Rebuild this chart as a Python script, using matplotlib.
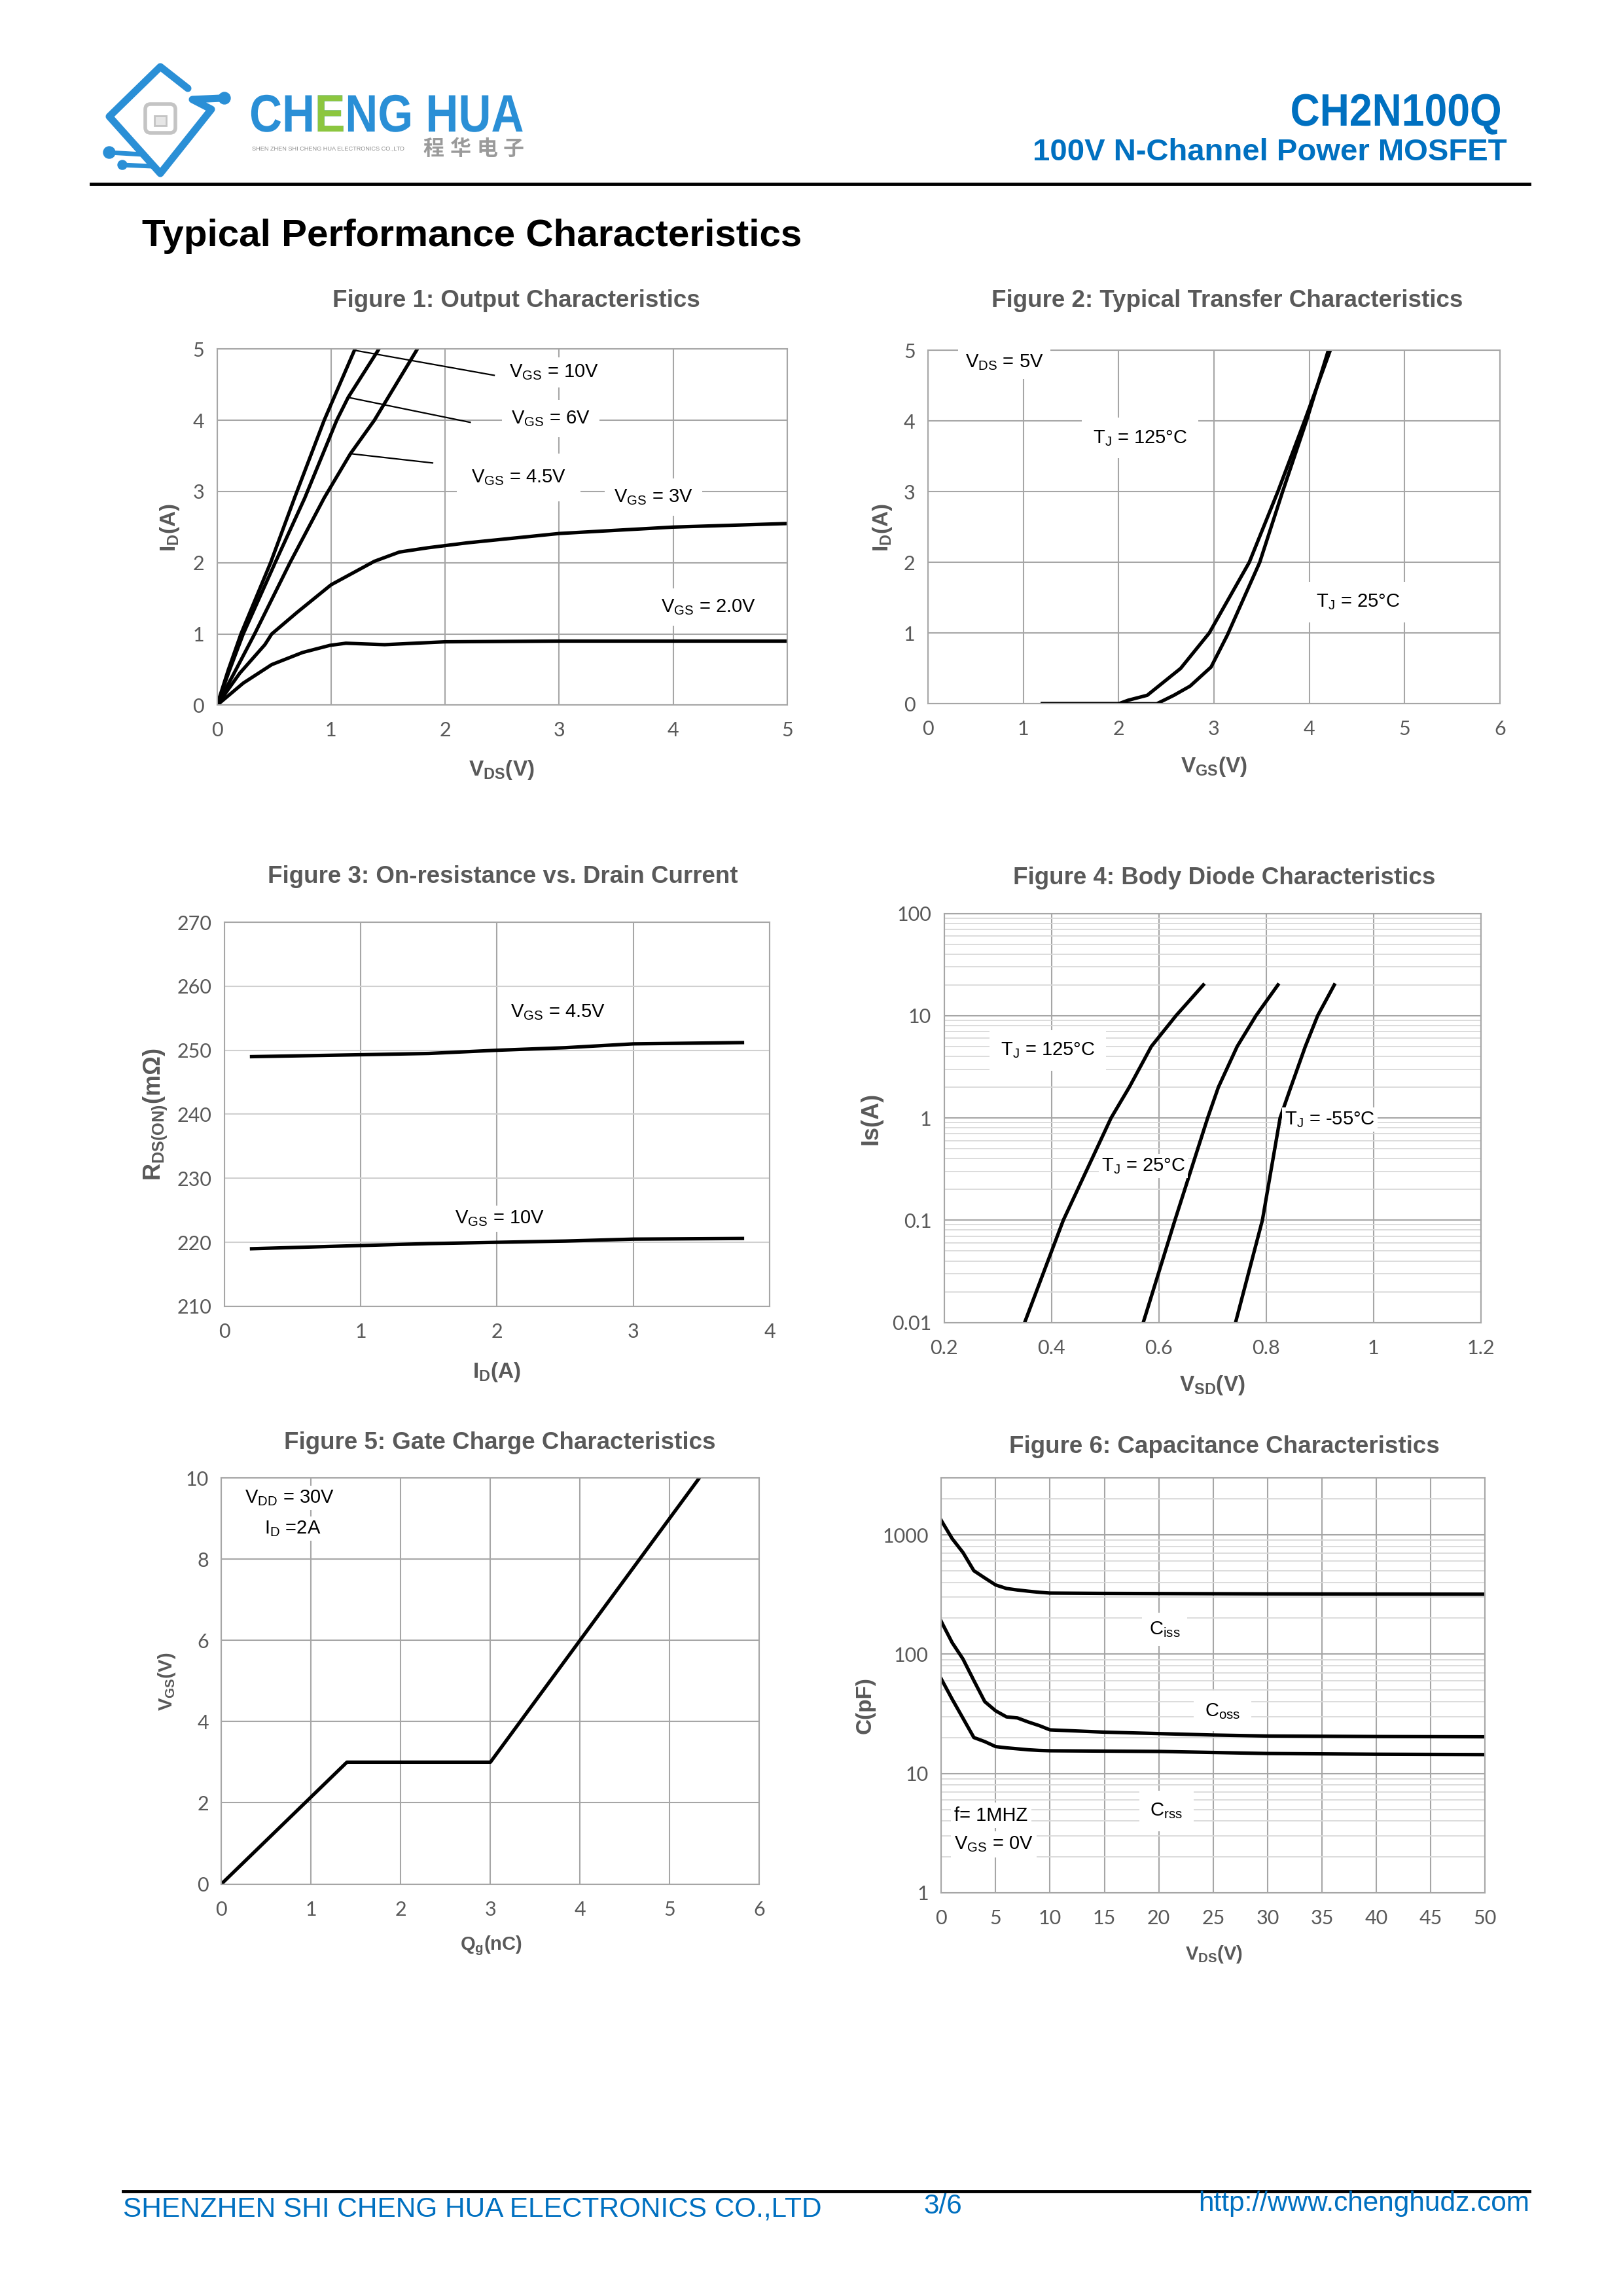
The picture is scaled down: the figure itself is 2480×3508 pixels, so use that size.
import numpy as np
import matplotlib.pyplot as plt
from matplotlib.patches import Circle, FancyBboxPatch, PathPatch, Rectangle
from matplotlib.ticker import LogLocator, NullFormatter
from matplotlib.textpath import TextPath
from matplotlib.font_manager import FontProperties
from matplotlib.transforms import Affine2D

plt.rcParams['font.family'] = ['Liberation Sans', 'DejaVu Sans']
plt.rcParams['mathtext.fontset'] = 'custom'
plt.rcParams['mathtext.rm'] = 'Liberation Sans'
plt.rcParams['mathtext.bf'] = 'Liberation Sans:bold'
plt.rcParams['mathtext.it'] = 'Liberation Sans:italic'

# layout measured on a 1107 x 1566 preview of the page, drawn at 2480 x 3508
W, H = 1107.0, 1566.0
PW, PH = 2480, 3508
BLUE = '#0070c0'
LOGO_BLUE = '#2a8fd6'
LOGO_GREEN = '#8cc63f'
GRAY_TXT = '#595959'
GRID = '#a6a6a6'
TICK_FONT = ['Lato', 'DejaVu Sans']

# ---- Figure 1: output characteristics ----
vds_10v = [0, 0.1, 0.21, 0.47, 0.68, 0.94, 1.21]
id_10v = [0, 0.5, 1.0, 2.0, 2.91, 4.0, 5.0]
vds_6v = [0, 0.1, 0.23, 0.51, 0.77, 1.05, 1.15, 1.42]
id_6v = [0, 0.45, 1.0, 2.0, 2.91, 4.0, 4.32, 5.0]
vds_45v = [0, 0.15, 0.33, 0.64, 0.94, 1.17, 1.38, 1.757]
id_45v = [0, 0.45, 1.0, 2.0, 2.91, 3.53, 4.0, 5.0]
vds_3v = [0, 0.2, 0.42, 0.48, 0.7, 1.0, 1.38, 1.6, 1.85, 2.2, 3.0, 4.0, 5.0]
id_3v = [0, 0.45, 0.85, 1.0, 1.3, 1.69, 2.02, 2.15, 2.21, 2.28, 2.41, 2.5, 2.55]
vds_2v = [0, 0.23, 0.48, 0.75, 0.99, 1.13, 1.47, 2.0, 3.0, 5.0]
id_2v = [0, 0.31, 0.57, 0.74, 0.84, 0.87, 0.85, 0.89, 0.9, 0.9]

# ---- Figure 2: transfer characteristics ----
vgs_125 = [1.2, 2.0, 2.1, 2.3, 2.65, 2.95, 3.37, 3.67, 3.95, 4.22]
id_125 = [0, 0, 0.05, 0.12, 0.5, 1.0, 2.0, 3.0, 4.0, 5.0]
vgs_25 = [1.2, 2.4, 2.58, 2.75, 2.97, 3.14, 3.48, 3.72, 3.97, 4.2]
id_25 = [0, 0, 0.12, 0.25, 0.52, 0.97, 2.0, 3.0, 4.0, 5.0]

# ---- Figure 3: on-resistance vs drain current ----
id_r = [0.2, 1.0, 1.5, 2.0, 2.5, 3.0, 3.8]
r_45v = [249.0, 249.3, 249.5, 250.0, 250.4, 251.0, 251.2]
r_10v = [219.0, 219.5, 219.8, 220.0, 220.2, 220.5, 220.6]

# ---- Figure 4: body diode ----
is_a = [0.01, 0.1, 1, 2, 5, 10, 20]
vsd_125 = [0.35, 0.422, 0.511, 0.545, 0.586, 0.632, 0.683]
vsd_25 = [0.571, 0.63, 0.691, 0.711, 0.746, 0.781, 0.822]
vsd_m55 = [0.743, 0.793, 0.826, 0.846, 0.873, 0.896, 0.927]

# ---- Figure 5: gate charge ----
qg = [0, 1.4, 3.0, 5.33]
vgs_q = [0, 3.0, 3.0, 10.0]

# ---- Figure 6: capacitance ----
vds_c = [0, 1, 2, 3, 4, 5, 6, 7, 8, 9, 10, 15, 20, 25, 30, 40, 50]
ciss = [1320, 930, 710, 500, 435, 380, 355, 345, 337, 330, 325, 323, 322, 321, 320, 319, 318]
coss = [188, 125, 91, 60, 40, 33.5, 29.8, 29.2, 27, 25.2, 23.2, 22.2, 21.6, 21.0, 20.6, 20.4, 20.3]
crss = [62, 42, 29, 20, 18.5, 16.8, 16.4, 16.1, 15.8, 15.6, 15.5, 15.4, 15.3, 15.0, 14.7, 14.5, 14.4]

fig = plt.figure(figsize=(24.8, 35.08), dpi=100)

# page overlay in full pixel coords (y up) for the header artwork
page = fig.add_axes([0, 0, 1, 1])
page.set_xlim(0, PW)
page.set_ylim(0, PH)
page.axis('off')
page.patch.set_visible(False)


def up(y):
    return PH - y


def squeezed(s, x, base, size_pt, sx, color, ha='left'):
    fp = FontProperties(family='Liberation Sans', weight='bold')
    tp = TextPath((0, 0), s, size=size_pt * 100 / 72, prop=fp)
    w = tp.get_extents().x1 * sx
    x0 = x - w if ha == 'right' else x
    path = Affine2D().scale(sx, 1).translate(x0, up(base)).transform_path(tp)
    return page.add_patch(PathPatch(path, fc=color, ec='none')), x0, fp


def make_ax(l, t, r, b):
    return fig.add_axes([l / W, 1 - b / H, (r - l) / W, (b - t) / H])


def style(ax, xticks, yticks, ylabels=None, xpad=18, ypad=14):
    ax.set_xticks(xticks)
    if ylabels is None:
        ax.set_yticks(yticks)
    else:
        ax.set_yticks(yticks, ylabels)
    ax.set_xlim(xticks[0], xticks[-1])
    ax.set_ylim(yticks[0], yticks[-1])
    ax.grid(True, which='major', color=GRID, lw=1.5)
    ax.set_axisbelow(True)
    for s in ax.spines.values():
        s.set_color(GRID)
        s.set_linewidth(1.5)
    ax.tick_params(axis='x', length=0, pad=xpad, labelsize=22, labelcolor=GRAY_TXT)
    ax.tick_params(axis='y', length=0, pad=ypad, labelsize=22, labelcolor=GRAY_TXT)
    for lab in ax.get_xticklabels() + ax.get_yticklabels():
        lab.set_fontfamily(TICK_FONT)


def labels(ax, box, xl, yl, xl_pos, yl_pos, size=24, ysize=None):
    l, t, r, b = box
    ax.set_xlabel(xl, fontsize=size, weight='bold', color=GRAY_TXT, va='center')
    ax.set_ylabel(yl, fontsize=ysize or size, weight='bold', color=GRAY_TXT, va='center')
    ax.xaxis.set_label_coords((xl_pos[0] - l) / (r - l), (b - xl_pos[1]) / (b - t))
    ax.yaxis.set_label_coords((yl_pos[0] - l) / (r - l), (b - yl_pos[1]) / (b - t))


def title(x, y, s):
    fig.text(x / W, 1 - y / H, s, ha='center', va='center', fontsize=26.5,
             weight='bold', color=GRAY_TXT)


def note(ax, x, y, s, pad=6, size=21):
    ax.text(x, y, s, ha='left', va='center', fontsize=size, color='black',
            bbox=dict(facecolor='white', edgecolor='none', pad=pad), zorder=4)


LW = 3.8

# ---------------- header ----------------
logo_x = [287, 245, 167, 245, 323, 294, 338]
logo_y = [135, 102, 178, 265, 167, 152, 150]
page.plot(logo_x, [up(v) for v in logo_y], color=LOGO_BLUE, lw=8,
          solid_joinstyle='round', solid_capstyle='round')
page.add_patch(Circle((343, up(150)), 9, color=LOGO_BLUE))
page.plot([167, 218], [up(233), up(236)], color=LOGO_BLUE, lw=5, solid_capstyle='round')
page.add_patch(Circle((167, up(233)), 9, color=LOGO_BLUE))
page.plot([187, 232], [up(252), up(254)], color=LOGO_BLUE, lw=5, solid_capstyle='round')
page.add_patch(Circle((187, up(252)), 7, color=LOGO_BLUE))
page.add_patch(FancyBboxPatch((222, up(203)), 46, 44, boxstyle='round,pad=0,rounding_size=8',
                              fc='white', ec='#c4c4c4', lw=4))
page.add_patch(Rectangle((236, up(192)), 18, 15, fc='#e6e6e6', ec='#c4c4c4', lw=2))

logo_patch, lx0, fp = squeezed('CHENG HUA', 381, 201, 58, 0.86, LOGO_BLUE)
e_start = lx0 + TextPath((0, 0), 'CH', size=58 * 100 / 72, prop=fp).get_extents().x1 * 0.86 + 2
e_end = lx0 + TextPath((0, 0), 'CHE', size=58 * 100 / 72, prop=fp).get_extents().x1 * 0.86 + 2
green_patch, _, _ = squeezed('CHENG HUA', 381, 201, 58, 0.86, LOGO_GREEN)
clip = Rectangle((e_start, up(260)), e_end - e_start, 120, transform=page.transData)
green_patch.set_clip_path(clip)

page.text(385, up(227), 'SHEN ZHEN SHI CHENG HUA ELECTRONICS CO.,LTD', fontsize=6.6,
          color='#8c8c8c', va='center', ha='left')
for i, ch in enumerate('程华电子'):
    page.text(662 + 41 * i, up(228), ch, fontsize=23, weight='bold', color='#9a9a9a',
              family=['Noto Sans CJK SC', 'DejaVu Sans'], va='center', ha='center')

squeezed('CH2N100Q', 2292, 192, 50, 0.9, BLUE, ha='right')
fig.text(1028 / W, 1 - 104 / H, '100V N-Channel Power MOSFET', fontsize=34, weight='bold',
         color=BLUE, ha='right', va='center')
fig.add_artist(plt.Line2D([62 / W, 1043 / W], [1 - 125.5 / H] * 2, color='black', lw=3.5))

fig.text(97 / W, 1 - 161 / H, 'Typical Performance Characteristics', fontsize=42,
         weight='bold', color='black', ha='left', va='center')

# ---------------- Figure 1 ----------------
box1 = (148, 238, 537, 481)
ax1 = make_ax(*box1)
for x, y in [(vds_10v, id_10v), (vds_6v, id_6v), (vds_45v, id_45v), (vds_3v, id_3v), (vds_2v, id_2v)]:
    ax1.plot(x, y, color='black', lw=LW, solid_joinstyle='round')
style(ax1, [0, 1, 2, 3, 4, 5], [0, 1, 2, 3, 4, 5])
ax1.plot([1.21, 2.43], [4.98, 4.63], color='black', lw=1.6)
ax1.plot([1.15, 2.22], [4.32, 3.97], color='black', lw=1.6)
ax1.plot([1.17, 1.89], [3.53, 3.40], color='black', lw=1.6)
note(ax1, 2.56, 4.67, r'$\mathrm{V_{GS}}$ = 10V')
note(ax1, 2.58, 4.02, r'$\mathrm{V_{GS}}$ = 6V', pad=10)
note(ax1, 2.23, 3.2, r'$\mathrm{V_{GS}}$ = 4.5V', pad=16)
note(ax1, 3.48, 2.92, r'$\mathrm{V_{GS}}$ = 3V', pad=10)
note(ax1, 3.89, 1.38, r'$\mathrm{V_{GS}}$ = 2.0V', pad=10)
labels(ax1, box1, r'$\mathbf{V_{DS}}$(V)', r'$\mathbf{I_{D}}$(A)', (342, 525), (116, 360))
title(352, 205, 'Figure 1: Output Characteristics')

# ---------------- Figure 2 ----------------
box2 = (633, 239, 1023, 480)
ax2 = make_ax(*box2)
ax2.plot(vgs_125, id_125, color='black', lw=LW)
ax2.plot(vgs_25, id_25, color='black', lw=LW)
style(ax2, [0, 1, 2, 3, 4, 5, 6], [0, 1, 2, 3, 4, 5])
note(ax2, 0.39, 4.83, r'$\mathrm{V_{DS}}$ = 5V', pad=8)
note(ax2, 1.73, 3.76, r'$\mathrm{T_{J}}$ = 125°C', pad=12)
note(ax2, 4.07, 1.44, r'$\mathrm{T_{J}}$ = 25°C', pad=12)
labels(ax2, box2, r'$\mathbf{V_{GS}}$(V)', r'$\mathbf{I_{D}}$(A)', (828, 523), (602, 360))
title(837, 205, 'Figure 2: Typical Transfer Characteristics')

# ---------------- Figure 3 ----------------
box3 = (153, 629, 525, 891)
ax3 = make_ax(*box3)
ax3.plot(id_r, r_45v, color='black', lw=LW)
ax3.plot(id_r, r_10v, color='black', lw=LW)
style(ax3, [0, 1, 2, 3, 4], [210, 220, 230, 240, 250, 260, 270])
ax3.grid(True, axis='y', color='#d0d0d0', lw=1.5)
note(ax3, 2.1, 255.9, r'$\mathrm{V_{GS}}$ = 4.5V', pad=6)
note(ax3, 1.69, 223.7, r'$\mathrm{V_{GS}}$ = 10V', pad=4)
labels(ax3, box3, r'$\mathbf{I_{D}}$(A)', r'$\mathbf{R_{DS(ON)}}$(mΩ)', (339, 936), (106, 760),
       ysize=26)
title(343, 598, 'Figure 3: On-resistance vs. Drain Current')

# ---------------- Figure 4 ----------------
box4 = (644, 623, 1010, 902)
ax4 = make_ax(*box4)
ax4.set_yscale('log')
ax4.plot(vsd_125, is_a, color='black', lw=LW)
ax4.plot(vsd_25, is_a, color='black', lw=LW)
ax4.plot(vsd_m55, is_a, color='black', lw=LW)
style(ax4, [0.2, 0.4, 0.6, 0.8, 1.0, 1.2], [0.01, 0.1, 1, 10, 100],
      ['0.01', '0.1', '1', '10', '100'])
ax4.set_xticks([0.2, 0.4, 0.6, 0.8, 1.0, 1.2], ['0.2', '0.4', '0.6', '0.8', '1', '1.2'])
for lab in ax4.get_xticklabels():
    lab.set_fontfamily(TICK_FONT)
ax4.yaxis.set_minor_locator(LogLocator(base=10, subs=np.arange(2, 10)))
ax4.yaxis.set_minor_formatter(NullFormatter())
ax4.tick_params(which='minor', length=0)
ax4.grid(True, which='minor', axis='y', color='#d9d9d9', lw=1.3)
note(ax4, 0.305, 4.57, r'$\mathrm{T_{J}}$ = 125°C', pad=12)
note(ax4, 0.493, 0.34, r'$\mathrm{T_{J}}$ = 25°C', pad=3)
note(ax4, 0.834, 0.96, r'$\mathrm{T_{J}}$ = -55°C', pad=3)
labels(ax4, box4, r'$\mathbf{V_{SD}}$(V)', 'Is(A)', (827, 945), (594, 763), ysize=26)
title(835, 599, 'Figure 4: Body Diode Characteristics')

# ---------------- Figure 5 ----------------
box5 = (151, 1008, 518, 1285)
ax5 = make_ax(*box5)
ax5.plot(qg, vgs_q, color='black', lw=LW)
style(ax5, [0, 1, 2, 3, 4, 5, 6], [0, 2, 4, 6, 8, 10])
note(ax5, 0.26, 9.51, r'$\mathrm{V_{DD}}$ = 30V', pad=3)
note(ax5, 0.48, 8.75, r'$\mathrm{I_{D}}$ =2A', pad=3)
labels(ax5, box5, r'$\mathbf{Q_{g}}$(nC)', r'$\mathbf{V_{GS}}$(V)', (335, 1327), (114, 1147), size=21)
title(341, 984, 'Figure 5: Gate Charge Characteristics')

# ---------------- Figure 6 ----------------
box6 = (642, 1008, 1013, 1291)
ax6 = make_ax(*box6)
ax6.set_yscale('log')
ax6.plot(vds_c, ciss, color='black', lw=LW)
ax6.plot(vds_c, coss, color='black', lw=LW)
ax6.plot(vds_c, crss, color='black', lw=LW)
style(ax6, [0, 5, 10, 15, 20, 25, 30, 35, 40, 45, 50], [1, 10, 100, 1000],
      ['1', '10', '100', '1000'])
ax6.set_ylim(1, 3000)
ax6.yaxis.set_minor_locator(LogLocator(base=10, subs=np.arange(2, 10)))
ax6.yaxis.set_minor_formatter(NullFormatter())
ax6.tick_params(which='minor', length=0)
ax6.grid(True, which='minor', axis='y', color='#d9d9d9', lw=1.3)
note(ax6, 19.1, 161, r'$\mathrm{C_{iss}}$', pad=8)
note(ax6, 24.2, 33.4, r'$\mathrm{C_{oss}}$', pad=12)
note(ax6, 19.2, 4.87, r'$\mathrm{C_{rss}}$', pad=12)
note(ax6, 1.2, 4.45, 'f= 1MHZ', pad=4)
note(ax6, 1.2, 2.55, r'$\mathrm{V_{GS}}$ = 0V', pad=4)
labels(ax6, box6, r'$\mathbf{V_{DS}}$(V)', 'C(pF)', (828, 1333), (590, 1163), size=21, ysize=24)
title(835, 987, 'Figure 6: Capacitance Characteristics')

# ---------------- footer ----------------
fig.add_artist(plt.Line2D([84 / W, 1043 / W], [1 - 1494.5 / H] * 2, color='black', lw=3.5))
fig.text(84 / W, 1 - 1507 / H, 'SHENZHEN SHI CHENG HUA ELECTRONICS CO.,LTD', fontsize=30.5,
         color=BLUE, ha='left', va='center')
fig.text(643 / W, 1 - 1505 / H, '3/6', fontsize=30.5, color=BLUE, ha='center', va='center')
fig.text(1043 / W, 1 - 1503 / H, 'http://www.chenghudz.com', fontsize=30.5, color=BLUE,
         ha='right', va='center')

fig.savefig('out.png', dpi=100, facecolor='white')
